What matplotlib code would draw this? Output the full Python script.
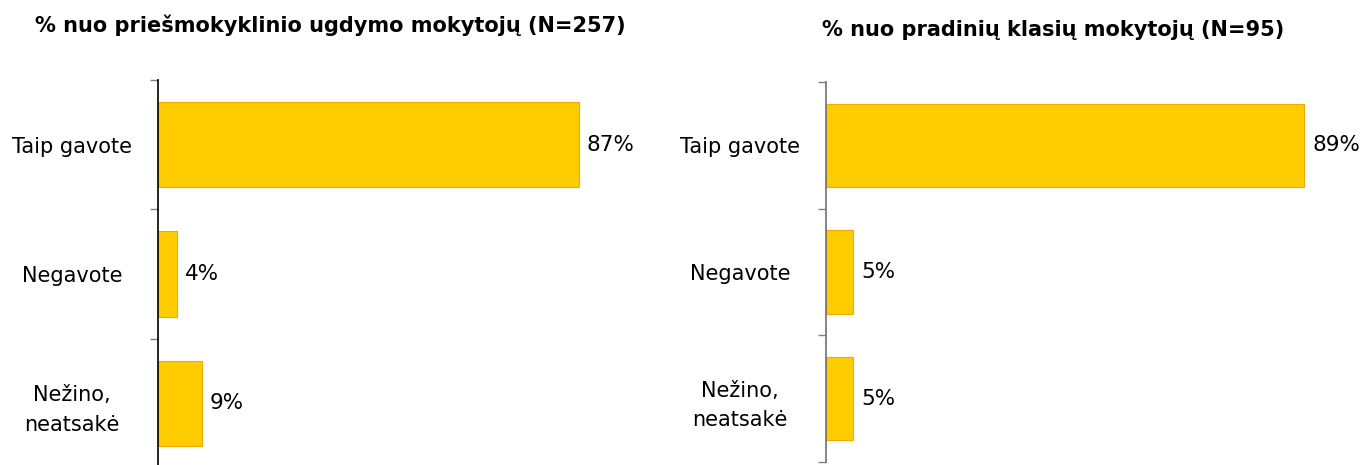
import matplotlib.pyplot as plt

categories = ['Taip gavote', 'Negavote', 'Nežino,\nneatsakė']
preschool = [87, 4, 9]
primary = [89, 5, 5]
title_left = '% nuo priešmokyklinio ugdymo mokytojų (N=257)'
title_right = '% nuo pradinių klasių mokytojų (N=95)'

W, H = 1362, 465
fig = plt.figure(figsize=(W / 100, H / 100), dpi=100)

#------------------------------------------------------------------------------------
def panel(rect, values, spine_col):
  ax = fig.add_axes(rect)
  y = range(len(categories))
  ax.barh(y, values, height=0.66, color='#FFCC00', edgecolor='#F5A800', linewidth=0.8)
  for i, v in enumerate(values):
    ax.text(v + 1.6, i, '%d%%' % v, va='center', ha='left', fontsize=15.5)
  ax.set_ylim(len(categories) - 0.5, -0.5)
  ax.set_xlim(0, 100)
  ax.set_yticks([-0.5, 0.5, 1.5, 2.5])
  ax.set_yticklabels([])
  ax.set_yticks(list(y), minor=True)
  ax.set_yticklabels(categories, minor=True, fontsize=15, ha='center',
                     multialignment='center', linespacing=1.6)
  ax.tick_params(axis='y', which='minor', length=0, pad=62)
  ax.tick_params(axis='y', which='major', length=6, color='#808080', width=1)
  ax.set_xticks([])
  for s in ['top', 'right', 'bottom']:
    ax.spines[s].set_visible(False)
  ax.spines['left'].set_color(spine_col)
  ax.spines['left'].set_linewidth(1.2)
  return ax
#------------------------------------------------------------------------------------

panel([158 / W, -3 / H, 484 / W, 388 / H], preschool, 'black')
panel([826 / W, 3 / H, 537 / W, 380 / H], primary, '#707070')

fig.text(330 / W, 1 - 25 / H, title_left, ha='center', va='center', fontsize=15, fontweight='bold')
fig.text(1053 / W, 1 - 30 / H, title_right, ha='center', va='center', fontsize=15, fontweight='bold')

fig.savefig('out.png', dpi=100)
